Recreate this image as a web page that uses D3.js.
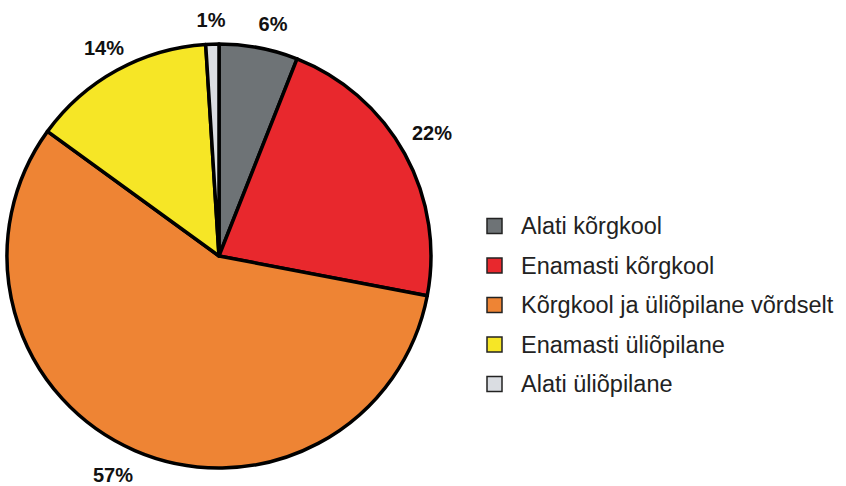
<!DOCTYPE html>
<html>
<head>
<meta charset="utf-8">
<script src="https://cdn.jsdelivr.net/npm/d3@7"></script>
<style>
  body { margin: 0; background: #fff; }
  text { font-family: "Liberation Sans", Arial, sans-serif; }
</style>
</head>
<body>
<div id="chart"></div>
<script>
var categories = [ "Alati kõrgkool", "Enamasti kõrgkool", "Kõrgkool ja üliõpilane võrdselt", "Enamasti üliõpilane", "Alati üliõpilane" ];
var values = [ 6, 22, 57, 14, 1 ];
var labels = [ "6%", "22%", "57%", "14%", "1%" ];
var colors = [ "#6e7376", "#e8282d", "#ee8434", "#f6e626", "#dadde2" ];
// label centres
var labelPos = [ [ 273, 24 ], [ 432, 133 ], [ 113, 475 ], [ 104, 48 ], [ 211, 20 ] ];

var width = 846;
var height = 486;
var cx = 219, cy = 256, radius = 212;

var svg = d3.select( "#chart" ).append( "svg" )
    .attr( "width", width )
    .attr( "height", height );

var pie = d3.pie().sort( null ).value( function( d ) { return d; });
var arc = d3.arc().innerRadius( 0 ).outerRadius( radius );

var g = svg.append( "g" ).attr( "transform", "translate(" + cx + "," + cy + ")" );

g.selectAll( "path" )
    .data( pie( values ) )
    .enter().append( "path" )
    .attr( "d", arc )
    .attr( "fill", function( d, i ) { return colors[ i ]; })
    .attr( "stroke", "#000" )
    .attr( "stroke-width", 3.5 )
    .attr( "stroke-linejoin", "round" );

svg.selectAll( "text.pct" )
    .data( labels )
    .enter().append( "text" )
    .attr( "class", "pct" )
    .attr( "x", function( d, i ) { return labelPos[ i ][ 0 ]; })
    .attr( "y", function( d, i ) { return labelPos[ i ][ 1 ]; })
    .attr( "text-anchor", "middle" )
    .attr( "dominant-baseline", "central" )
    .attr( "font-size", 20 )
    .attr( "font-weight", "bold" )
    .attr( "fill", "#111" )
    .text( function( d ) { return d; });

// legend
var legendY = d3.scalePoint().domain( categories ).range( [ 226, 384 ] );

var legend = svg.selectAll( "g.legend" )
    .data( categories )
    .enter().append( "g" )
    .attr( "class", "legend" )
    .attr( "transform", function( d ) { return "translate(487," + legendY( d ) + ")"; });

legend.append( "rect" )
    .attr( "x", 0 )
    .attr( "y", -7.5 )
    .attr( "width", 15 )
    .attr( "height", 15 )
    .attr( "fill", function( d, i ) { return colors[ i ]; })
    .attr( "stroke", "#222" )
    .attr( "stroke-width", 1.5 );

legend.append( "text" )
    .attr( "x", 34 )
    .attr( "y", 0 )
    .attr( "dominant-baseline", "central" )
    .attr( "font-size", 23.5 )
    .attr( "fill", "#222" )
    .text( function( d ) { return d; });
</script>
</body>
</html>
